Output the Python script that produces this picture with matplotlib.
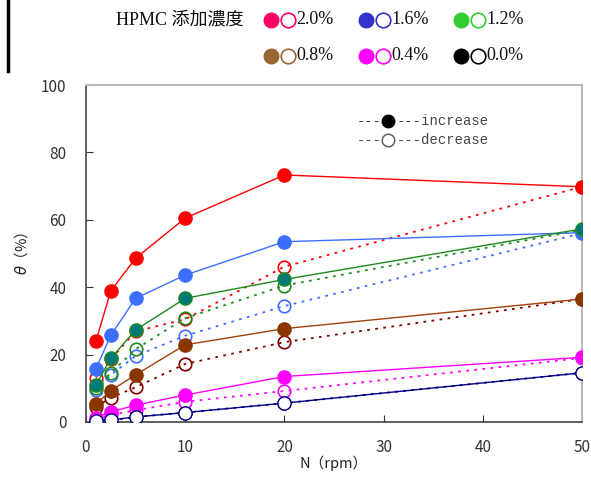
import matplotlib
matplotlib.use("Agg")
import matplotlib.pyplot as plt
from matplotlib.lines import Line2D

# rotation speed (rpm)
rpm = [1, 2.5, 5, 10, 20, 50]

# theta (%) while increasing / decreasing rpm, per HPMC concentration
inc_20 = [24.0, 38.9, 48.6, 60.5, 73.3, 69.8]
dec_20 = [13.2, 18.6, 26.9, 30.5, 46.1, 69.8]
inc_16 = [15.8, 25.7, 36.7, 43.6, 53.5, 56.2]
dec_16 = [9.4, 14.0, 19.6, 25.6, 34.4, 56.0]
inc_12 = [11.0, 18.9, 27.3, 36.7, 42.3, 57.3]
dec_12 = [10.0, 14.6, 21.6, 30.8, 40.5, 57.0]
inc_08 = [5.3, 9.3, 14.0, 22.9, 27.7, 36.5]
dec_08 = [4.5, 7.2, 10.3, 17.2, 23.7, 36.5]
inc_04 = [1.3, 3.0, 5.0, 8.0, 13.5, 19.2]
dec_04 = [0.8, 2.0, 3.5, 6.0, 9.2, 19.0]
inc_00 = [0.3, 0.6, 1.5, 2.8, 5.6, 14.6]
dec_00 = [0.3, 0.5, 1.5, 2.8, 5.6, 14.6]

labels = ["2.0%", "1.6%", "1.2%", "0.8%", "0.4%", "0.0%"]
head_colors = ["#ff0066", "#3333cc", "#33cc33", "#996633", "#ff00ff", "#000000"]

series = [
    # inc, dec, line colour, fill, edge, dec colour
    (inc_20, dec_20, "#ff0000", "#ff0000", "#ff0000", "#ff0000"),
    (inc_16, dec_16, "#3d6fff", "#3d6fff", "#3d6fff", "#3d6fff"),
    (inc_12, dec_12, "#1e8a1e", "#007a78", "#1e8a1e", "#1e8a1e"),
    (inc_08, dec_08, "#a0400a", "#8b3500", "#8b3500", "#800000"),
    (inc_04, dec_04, "#ff00ff", "#ff00ff", "#ff00ff", "#ff00ff"),
    (inc_00, dec_00, "#000080", "white", "#000080", "#000080"),
]

W, H = 591, 478
fig = plt.figure(figsize=(W / 100, H / 100), dpi=100)
ax = fig.add_axes([86 / W, 1 - 422 / H, (582 - 86) / W, (422 - 85) / H])

for inc, dec, lc, fc, ec, dc in series:
    ax.plot(rpm, dec, color=dc, lw=1.3, linestyle=(0, (1.5, 3)), marker="o",
            ms=9, mfc="none", mec=dc, mew=1.2, zorder=2)
    ax.plot(rpm, inc, color=lc, lw=1.0, marker="o", ms=9.5, mfc=fc,
            mec=ec, mew=1.0, zorder=3)

ax.set_xlim(0, 50)
ax.set_ylim(0, 100)
ax.set_xticks([0, 10, 20, 30, 40, 50])
ax.set_yticks([0, 20, 40, 60, 80, 100])
ax.tick_params(direction="in", length=5, labelsize=11, colors="#333333", pad=12)
ax.tick_params(axis="y", pad=14)
for s in ["top", "right"]:
    ax.spines[s].set_color("#bbbbbb")
    ax.spines[s].set_linewidth(1.5)
for s in ["left", "bottom"]:
    ax.spines[s].set_color("#444444")
    ax.spines[s].set_linewidth(1.2)
for t in ax.get_xticklabels() + ax.get_yticklabels():
    t.set_family(["Noto Sans CJK JP", "DejaVu Sans"])

ax.set_xlabel("N（rpm）", fontsize=10.5, family=["Noto Sans CJK JP", "DejaVu Sans"],
              color="#222222", labelpad=0)
ax.set_ylabel(r"$\theta$（%）", fontsize=10.5, family=["Noto Sans CJK JP", "DejaVu Sans"],
              color="#222222", labelpad=8)

# increase / decrease key inside the axes
mono = "Liberation Mono"
for yy, filled, word in [(121, True, "increase"), (140, False, "decrease")]:
    fig.text(357 / W, 1 - yy / H, "---", family=mono, fontsize=10, color="#444444",
             va="center")
    fig.add_artist(Line2D([388 / W], [1 - yy / H], transform=fig.transFigure,
                          marker="o", ms=9, mfc="black" if filled else "white",
                          mec="black" if filled else "#555555", mew=1.0, ls="none"))
    fig.text(397 / W, 1 - yy / H, "---" + word, family=mono, fontsize=10,
             color="#444444", va="center")

# header legend
serif = ["Liberation Serif", "Noto Sans CJK JP"]
fig.text(243 / W, 1 - 20 / H, "HPMC 添加濃度", family=serif, fontsize=13,
         ha="right", va="center", color="#111111")
col_x = [271, 366, 461]
row_y = [20, 56]
for i, (lab, c) in enumerate(zip(labels, head_colors)):
    x0 = col_x[i % 3]
    y0 = 1 - row_y[i // 3] / H
    fig.add_artist(Line2D([x0 / W], [y0], transform=fig.transFigure, marker="o",
                          ms=10.5, mfc=c, mec=c, ls="none"))
    fig.add_artist(Line2D([(x0 + 17) / W], [y0], transform=fig.transFigure,
                          marker="o", ms=10.5, mfc="white", mec=c, mew=1.2, ls="none"))
    fig.text((x0 + 25) / W, y0, lab, family=serif, fontsize=13, va="center",
             color="#111111")

# black bar on the left edge
fig.add_artist(Line2D([8 / W, 8 / W], [1, 1 - 71 / H], transform=fig.transFigure,
                      color="black", lw=2.5))

fig.savefig("out.png", dpi=100)
